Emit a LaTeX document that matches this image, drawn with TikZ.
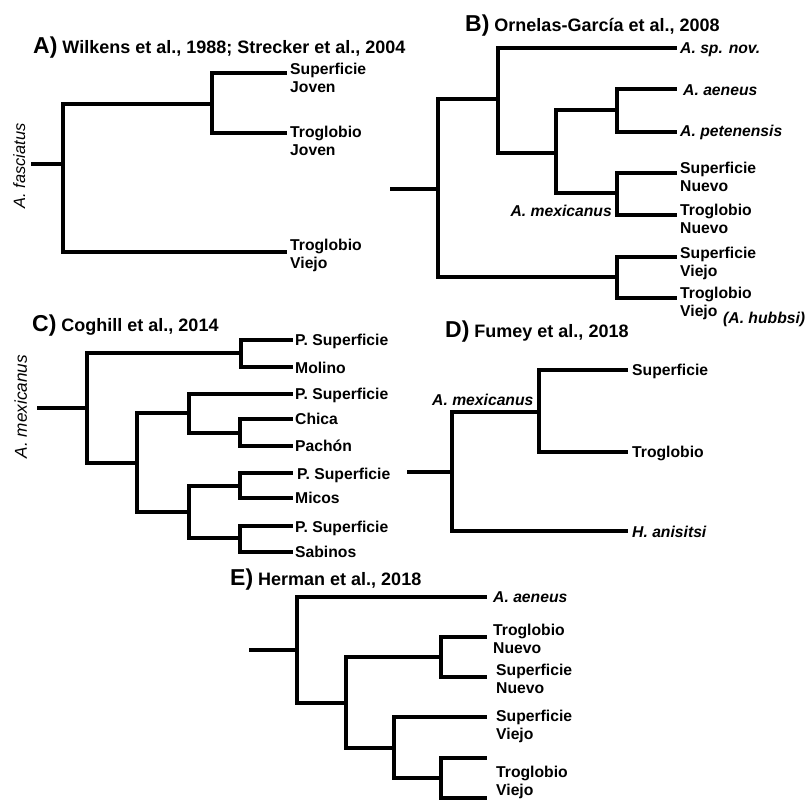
\documentclass[tikz,border=0pt]{standalone}
\usepackage{fontspec}
\setmainfont{Liberation Sans}
\newcommand{\twoline}[2]{\begin{tabular}[t]{@{}l@{}}#1\\#2\end{tabular}}
\begin{document}
\begin{tikzpicture}[x=1pt,y=-1pt,
  br/.style={line width=4.5pt, line join=miter},
  lbl/.style={anchor=base west, inner sep=0pt, font=\fontsize{15.7}{18.7}\selectfont\bfseries},
  lble/.style={lbl, anchor=base east},
  ttl/.style={anchor=base west, inner sep=0pt, font=\fontsize{18}{20}\selectfont\bfseries},
  vlbl/.style={rotate=90, anchor=base, inner sep=0pt}]
\useasboundingbox[fill=white] (0,0) rectangle (808,801);

% ---------- Panel A ----------
\node[ttl] (tA) at (33,53) {{\fontsize{23}{23}\selectfont A)} Wilkens et al., 1988; Strecker et al., 2004};
\coordinate (a0) at (31,164);
\coordinate (aR) at (63,164);
\coordinate (aU) at (212,104);
\coordinate (a1) at (287,73);
\coordinate (a2) at (287,133);
\coordinate (a3) at (287,252);
\draw[br] (a0) -- (aR);
\draw[br] (aR) |- (aU);
\draw[br] (aU) |- (a1);
\draw[br] (aU) |- (a2);
\draw[br] (aR) |- (a3);
\node[lbl] (la1) at (290,74) {\twoline{Superficie}{Joven}};
\node[lbl] (la2) at (290,137) {\twoline{Troglobio}{Joven}};
\node[lbl] (la3) at (290,250) {\twoline{Troglobio}{Viejo}};
\node[vlbl, font=\fontsize{16.4}{18}\selectfont\itshape] (fa) at (25,166) {A. fasciatus};

% ---------- Panel B ----------
\node[ttl] (tB) at (465,31) {{\fontsize{23}{23}\selectfont B)} Ornelas-García et al., 2008};
\coordinate (b0) at (390,189);
\coordinate (bR) at (438,189);
\coordinate (bX) at (498,99);
\coordinate (bY) at (556,153);
\coordinate (bZ1) at (617,110);
\coordinate (bZ2) at (617,193);
\coordinate (bW) at (617,277);
\coordinate (b1) at (677,48);
\coordinate (b2) at (677,89);
\coordinate (b3) at (677,132);
\coordinate (b4) at (677,173);
\coordinate (b5) at (677,215);
\coordinate (b6) at (677,257);
\coordinate (b7) at (677,298);
\draw[br] (b0) -- (bR);
\draw[br] (bR) |- (bX);
\draw[br] (bX) |- (b1);
\draw[br] (bX) |- (bY);
\draw[br] (bY) |- (bZ1);
\draw[br] (bY) |- (bZ2);
\draw[br] (bZ1) |- (b2);
\draw[br] (bZ1) |- (b3);
\draw[br] (bZ2) |- (b4);
\draw[br] (bZ2) |- (b5);
\draw[br] (bR) |- (bW);
\draw[br] (bW) |- (b6);
\draw[br] (bW) |- (b7);
\node[lbl] (lb1) at (680,53) {\itshape A. sp. nov.};
\node[lbl] (lb2) at (683,95) {\itshape A. aeneus};
\node[lbl] (lb3) at (680,136) {\itshape A. petenensis};
\node[lbl] (lb4) at (680,173) {\twoline{Superficie}{Nuevo}};
\node[lbl] (lb5) at (680,215) {\twoline{Troglobio}{Nuevo}};
\node[lbl] (lb6) at (680,258) {\twoline{Superficie}{Viejo}};
\node[lbl] (lb7) at (680,298) {\twoline{Troglobio}{Viejo}};
\node[lbl] (lbh) at (723,323) {\itshape (A. hubbsi)};
\node[lble] (lbm) at (612,216) {\itshape A. mexicanus};

% ---------- Panel C ----------
\node[ttl] (tC) at (32,331) {{\fontsize{23}{23}\selectfont C)} Coghill et al., 2014};
\coordinate (c0) at (37,408);
\coordinate (cR) at (87,408);
\coordinate (cA) at (241,353);
\coordinate (cB) at (137,463);
\coordinate (cC) at (189,413);
\coordinate (cD) at (240,433);
\coordinate (cE) at (189,512);
\coordinate (cF) at (240,486);
\coordinate (cG) at (240,538);
\coordinate (c1) at (293,340);
\coordinate (c2) at (293,367);
\coordinate (c3) at (293,394);
\coordinate (c4) at (293,419);
\coordinate (c5) at (293,446);
\coordinate (c6) at (293,473);
\coordinate (c7) at (293,498);
\coordinate (c8) at (293,526);
\coordinate (c9) at (293,552);
\draw[br] (c0) -- (cR);
\draw[br] (cR) |- (cA);
\draw[br] (cA) |- (c1);
\draw[br] (cA) |- (c2);
\draw[br] (cR) |- (cB);
\draw[br] (cB) |- (cC);
\draw[br] (cC) |- (c3);
\draw[br] (cC) |- (cD);
\draw[br] (cD) |- (c4);
\draw[br] (cD) |- (c5);
\draw[br] (cB) |- (cE);
\draw[br] (cE) |- (cF);
\draw[br] (cF) |- (c6);
\draw[br] (cF) |- (c7);
\draw[br] (cE) |- (cG);
\draw[br] (cG) |- (c8);
\draw[br] (cG) |- (c9);
\node[lbl] (lc1) at (295,345) {P. Superficie};
\node[lbl] (lc2) at (295,373) {Molino};
\node[lbl] (lc3) at (295,399) {P. Superficie};
\node[lbl] (lc4) at (295,424) {Chica};
\node[lbl] (lc5) at (295,451) {Pachón};
\node[lbl] (lc6) at (297,479) {P. Superficie};
\node[lbl] (lc7) at (295,503) {Micos};
\node[lbl] (lc8) at (295,532) {P. Superficie};
\node[lbl] (lc9) at (295,557) {Sabinos};
\node[vlbl, font=\fontsize{17.2}{19}\selectfont\itshape] (mc) at (27,406.5) {A. mexicanus};

% ---------- Panel D ----------
\node[ttl] (tD) at (445,337) {{\fontsize{23}{23}\selectfont D)} Fumey et al., 2018};
\coordinate (d0) at (407,472);
\coordinate (dR) at (452,472);
\coordinate (dA) at (539,412);
\coordinate (d1) at (628,370);
\coordinate (d2) at (628,452);
\coordinate (d3) at (628,531);
\draw[br] (d0) -- (dR);
\draw[br] (dR) |- (dA);
\draw[br] (dA) |- (d1);
\draw[br] (dA) |- (d2);
\draw[br] (dR) |- (d3);
\node[lbl] (ld1) at (632,375) {Superficie};
\node[lbl] (ld2) at (632,457) {Troglobio};
\node[lbl] (ld3) at (632,537) {\itshape H. anisitsi};
\node[lbl] (ldm) at (432,405) {\itshape A. mexicanus};

% ---------- Panel E ----------
\node[ttl] (tE) at (230,585) {{\fontsize{23}{23}\selectfont E)} Herman et al., 2018};
\coordinate (e0) at (249,650);
\coordinate (eR) at (297,650);
\coordinate (eA) at (346,703);
\coordinate (eB) at (441,657);
\coordinate (eC) at (394,748);
\coordinate (eD) at (441,778);
\coordinate (e1) at (487,597);
\coordinate (e2) at (487,637);
\coordinate (e3) at (487,677);
\coordinate (e4) at (487,717);
\coordinate (e5) at (487,758);
\coordinate (e6) at (487,798);
\draw[br] (e0) -- (eR);
\draw[br] (eR) |- (e1);
\draw[br] (eR) |- (eA);
\draw[br] (eA) |- (eB);
\draw[br] (eB) |- (e2);
\draw[br] (eB) |- (e3);
\draw[br] (eA) |- (eC);
\draw[br] (eC) |- (e4);
\draw[br] (eC) |- (eD);
\draw[br] (eD) |- (e5);
\draw[br] (eD) |- (e6);
\node[lbl] (le1) at (493,602) {\itshape A. aeneus};
\node[lbl] (le2) at (493,635) {\twoline{Troglobio}{Nuevo}};
\node[lbl] (le3) at (496,675) {\twoline{Superficie}{Nuevo}};
\node[lbl] (le4) at (496,721) {\twoline{Superficie}{Viejo}};
\node[lbl] (le5) at (496,777) {\twoline{Troglobio}{Viejo}};
\end{tikzpicture}
\end{document}
